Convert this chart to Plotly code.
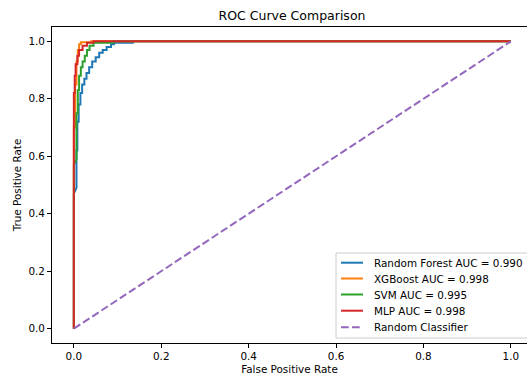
import plotly.graph_objects as go

# ROC data
rf_fpr = [0, 0, 0.006, 0.006, 0.008, 0.008, 0.011, 0.011, 0.015, 0.015, 0.019, 0.019, 0.024, 0.024,
          0.029, 0.029, 0.035, 0.035, 0.042, 0.042, 0.05, 0.05, 0.058, 0.058, 0.066, 0.066,
          0.075, 0.075, 0.085, 0.085, 0.092, 0.092, 0.135, 0.135, 1.0]
rf_tpr = [0, 0.47, 0.49, 0.62, 0.62, 0.72, 0.72, 0.78, 0.78, 0.82, 0.82, 0.85, 0.85, 0.87,
          0.87, 0.89, 0.89, 0.91, 0.91, 0.93, 0.93, 0.945, 0.945, 0.96, 0.96, 0.97,
          0.97, 0.98, 0.98, 0.99, 0.99, 0.995, 0.995, 1.0, 1.0]

xgb_fpr = [0, 0, 0.003, 0.003, 0.006, 0.006, 0.009, 0.009, 0.012, 0.012, 0.016, 0.016, 0.04, 0.04, 1.0]
xgb_tpr = [0, 0.70, 0.70, 0.85, 0.85, 0.93, 0.93, 0.97, 0.97, 0.99, 0.99, 0.997, 0.997, 1.0, 1.0]

svm_fpr = [0, 0, 0.006, 0.006, 0.009, 0.009, 0.012, 0.012, 0.016, 0.016, 0.02, 0.02, 0.025, 0.025,
           0.03, 0.03, 0.036, 0.036, 0.045, 0.045, 0.09, 0.09, 1.0]
svm_tpr = [0, 0.57, 0.59, 0.75, 0.75, 0.83, 0.83, 0.88, 0.88, 0.91, 0.91, 0.93, 0.93, 0.95,
           0.95, 0.97, 0.97, 0.985, 0.985, 0.995, 0.995, 1.0, 1.0]

mlp_fpr = [0, 0, 0.002, 0.002, 0.004, 0.004, 0.008, 0.008, 0.012, 0.012, 0.02, 0.02, 0.03, 0.03,
           0.045, 0.045, 1.0]
mlp_tpr = [0, 0.82, 0.82, 0.88, 0.88, 0.92, 0.92, 0.95, 0.95, 0.97, 0.97, 0.985, 0.985, 0.995,
           0.995, 1.0, 1.0]

diag = [0, 1]

series = [
    ("Random Forest AUC = 0.990", rf_fpr, rf_tpr, "#1f77b4", "solid"),
    ("XGBoost AUC = 0.998", xgb_fpr, xgb_tpr, "#ff7f0e", "solid"),
    ("SVM AUC = 0.995", svm_fpr, svm_tpr, "#2ca02c", "solid"),
    ("MLP AUC = 0.998", mlp_fpr, mlp_tpr, "#d62728", "solid"),
    ("Random Classifier", diag, diag, "#9467bd", "7.7px,3.3px"),
]

W, H = 527, 378
L, R, T, B = 52, 0, 27, 35
PW, PH = W - L - R, H - T - B


def px(xp):
    return (xp - L) / PW


def py(yp):
    return (H - B - yp) / PH


fig = go.Figure()
for name, x, y, c, d in series:
    fig.add_trace(go.Scatter(x=x, y=y, mode="lines", name=name, showlegend=False,
                             line=dict(color=c, width=2, dash=d)))

font = "DejaVu Sans"
axis_common = dict(showgrid=False, zeroline=False, showline=True, linecolor="black", linewidth=1,
                   ticks="outside", ticklen=4, tickwidth=1, tickcolor="black", automargin=False,
                   tickfont=dict(family=font, size=10.4, color="black"))

# manual legend (matplotlib-like spacing)
shapes = [dict(type="rect", xref="paper", yref="paper", x0=px(336), x1=px(540),
               y0=py(338), y1=py(253), line=dict(color="#cccccc", width=1),
               fillcolor="rgba(255,255,255,0.8)", layer="above")]
annotations = []
row_y = [262.7, 278.5, 294.5, 310.7, 327.3]
for (name, x, y, c, d), ry in zip(series, row_y):
    shapes.append(dict(type="line", xref="paper", yref="paper", x0=px(341), x1=px(363),
                       y0=py(ry), y1=py(ry), line=dict(color=c, width=2, dash=d), layer="above"))
    annotations.append(dict(text=name, xref="paper", yref="paper", x=px(372), y=py(ry),
                            xanchor="left", yanchor="middle", showarrow=False,
                            font=dict(family=font, size=10.4, color="black")))

fig.update_layout(
    width=W, height=H,
    margin=dict(l=L, r=R, t=T, b=B, autoexpand=False),
    plot_bgcolor="white", paper_bgcolor="white",
    font=dict(family=font, size=10.4, color="black"),
    title=dict(text="ROC Curve Comparison", x=(52 + 532) / 2 / W, xanchor="center",
               y=1 - 16 / H, yanchor="middle", yref="container",
               font=dict(family=font, size=12.5, color="black")),
    xaxis=dict(range=[-0.05, -0.05 + PW / 437], tickvals=[0, 0.2, 0.4, 0.6, 0.8, 1.0],
               ticktext=["0.0", "0.2", "0.4", "0.6", "0.8", "1.0"], mirror=True,
               title=dict(text="False Positive Rate", standoff=4,
                          font=dict(family=font, size=10.4, color="black")),
               **axis_common),
    yaxis=dict(range=[-0.05, 1.05], tickvals=[0, 0.2, 0.4, 0.6, 0.8, 1.0],
               ticktext=["0.0", "0.2", "0.4", "0.6", "0.8", "1.0"],
               title=dict(text="True Positive Rate", standoff=4,
                          font=dict(family=font, size=10.4, color="black")),
               **axis_common),
    showlegend=False,
    shapes=shapes,
    annotations=annotations,
)

fig.write_html("out.html", config={"displayModeBar": False},
               post_script="document.body.style.margin='0';document.body.style.overflow='hidden';")
